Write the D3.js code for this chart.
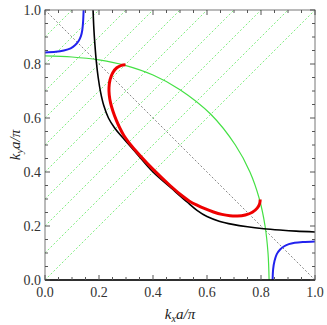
<!DOCTYPE html>
<html>
<head>
<meta charset="utf-8">
<script src="https://cdn.jsdelivr.net/npm/d3@7"></script>
<style>
  body { margin: 0; background: #fff; }
</style>
</head>
<body>
<svg id="chart"></svg>
<script>
// values (kx a/pi, ky a/pi)
const tickValues = [0, 0.2, 0.4, 0.6, 0.8, 1.0];
const tickLabels = ["0.0", "0.2", "0.4", "0.6", "0.8", "1.0"];
const diagOffsets = [0, 0.1, 0.2, 0.3, 0.4, 0.5, 0.6, 0.7, 0.8, 0.9];

const blackCurve = [
  [0.178, 1.0], [0.181, 0.93], [0.185, 0.87], [0.190, 0.81], [0.197, 0.75],
  [0.206, 0.695], [0.218, 0.645], [0.235, 0.60], [0.258, 0.563], [0.29, 0.525],
  [0.34, 0.468], [0.40, 0.40],
  [0.468, 0.34], [0.525, 0.29], [0.563, 0.258], [0.60, 0.235], [0.645, 0.218],
  [0.695, 0.206], [0.75, 0.197], [0.81, 0.190], [0.87, 0.185], [0.93, 0.181],
  [1.0, 0.178]
];

const redCurve = [
  [0.298, 0.797], [0.283, 0.795], [0.266, 0.786], [0.251, 0.768], [0.241, 0.742],
  [0.237, 0.712], [0.238, 0.685], [0.243, 0.655], [0.252, 0.624], [0.264, 0.592],
  [0.278, 0.561], [0.292, 0.535], [0.31, 0.510], [0.35, 0.463], [0.405, 0.405],
  [0.463, 0.35], [0.510, 0.31], [0.535, 0.292], [0.561, 0.278], [0.592, 0.264],
  [0.624, 0.252], [0.655, 0.243], [0.685, 0.238], [0.712, 0.237], [0.742, 0.241],
  [0.768, 0.251], [0.786, 0.266], [0.795, 0.283], [0.797, 0.298]
];

const greenCurve = [
  [0, 0.830], [0.1, 0.826], [0.2, 0.815], [0.3, 0.794], [0.4, 0.759],
  [0.5, 0.705], [0.614, 0.614], [0.705, 0.5], [0.759, 0.4], [0.794, 0.3],
  [0.815, 0.2], [0.826, 0.1], [0.830, 0]
];

const blueTopLeft = [
  [0, 0.843], [0.04, 0.845], [0.07, 0.850], [0.095, 0.858], [0.112, 0.870],
  [0.125, 0.886], [0.133, 0.903], [0.138, 0.925], [0.141, 0.955], [0.143, 1.0]
];
const blueBottomRight = [
  [0.843, 0], [0.845, 0.04], [0.850, 0.07], [0.858, 0.095], [0.870, 0.112],
  [0.886, 0.125], [0.903, 0.133], [0.925, 0.138], [0.955, 0.141], [1.0, 0.143]
];

const serif = "Liberation Serif";
const width = 327, height = 325;
const margin = { left: 45, top: 10, right: 12, bottom: 45 };
const w = width - margin.left - margin.right;
const h = height - margin.top - margin.bottom;

const svg = d3.select("#chart").attr("width", width).attr("height", height);
const g = svg.append("g").attr("transform", `translate(${margin.left},${margin.top})`);

const x = d3.scaleLinear().domain([0, 1]).range([0, w]);
const y = d3.scaleLinear().domain([0, 1]).range([h, 0]);

g.append("clipPath").attr("id", "clip")
  .append("rect").attr("width", w).attr("height", h);
const plot = g.append("g").attr("clip-path", "url(#clip)");

// green dotted lines ky = kx + c
plot.selectAll(".diag")
  .data(diagOffsets)
  .enter()
  .append("line")
  .attr("x1", (c) => x(0))
  .attr("y1", (c) => y(c))
  .attr("x2", (c) => x(1 - c))
  .attr("y2", (c) => y(1))
  .attr("stroke", "#80ee80")
  .attr("stroke-width", 1)
  .attr("stroke-dasharray", "2,2");

// gray dashed anti-diagonal
plot.append("line")
  .attr("x1", x(0)).attr("y1", y(1))
  .attr("x2", x(1)).attr("y2", y(0))
  .attr("stroke", "#888")
  .attr("stroke-width", 1)
  .attr("stroke-dasharray", "2,2");

const line = d3.line()
  .x((d) => x(d[0]))
  .y((d) => y(d[1]))
  .curve(d3.curveCatmullRom.alpha(0.5));

plot.append("path").datum(greenCurve)
  .attr("d", line).attr("fill", "none")
  .attr("stroke", "#44e044").attr("stroke-width", 1.2);

plot.append("path").datum(blackCurve)
  .attr("d", line).attr("fill", "none")
  .attr("stroke", "#000").attr("stroke-width", 1.6);

plot.append("path").datum(redCurve)
  .attr("d", line).attr("fill", "none")
  .attr("stroke", "#ee0000").attr("stroke-width", 3);

[blueTopLeft, blueBottomRight].forEach((pts) => {
  plot.append("path").datum(pts)
    .attr("d", line).attr("fill", "none")
    .attr("stroke", "#2222ee").attr("stroke-width", 2);
});

// frame
g.append("rect").attr("width", w).attr("height", h)
  .attr("fill", "none").attr("stroke", "#777").attr("stroke-width", 1);
g.append("line").attr("x1", 0).attr("x2", w).attr("y1", h).attr("y2", h)
  .attr("stroke", "#000").attr("stroke-width", 1.5);

// ticks (inward, all four sides)
const minor = d3.range(0, 1.0001, 0.05);
const tickLen = (v) => (Math.abs(v * 5 - Math.round(v * 5)) < 1e-6 ? 5 : 3);
minor.forEach((v) => {
  const L = tickLen(v);
  g.append("line").attr("x1", x(v)).attr("x2", x(v)).attr("y1", h).attr("y2", h - L).attr("stroke", "#555");
  g.append("line").attr("x1", x(v)).attr("x2", x(v)).attr("y1", 0).attr("y2", L).attr("stroke", "#555");
  g.append("line").attr("y1", y(v)).attr("y2", y(v)).attr("x1", 0).attr("x2", L).attr("stroke", "#555");
  g.append("line").attr("y1", y(v)).attr("y2", y(v)).attr("x1", w).attr("x2", w - L).attr("stroke", "#555");
});

g.selectAll(".xlab")
  .data(tickValues)
  .enter()
  .append("text")
  .attr("x", (d) => x(d))
  .attr("y", h + 17)
  .attr("text-anchor", "middle")
  .attr("font-family", serif)
  .attr("font-size", 14)
  .attr("fill", "#333")
  .text((d, i) => tickLabels[i]);

g.selectAll(".ylab")
  .data(tickValues)
  .enter()
  .append("text")
  .attr("x", -4)
  .attr("y", (d) => y(d) + 5)
  .attr("text-anchor", "end")
  .attr("font-family", serif)
  .attr("font-size", 14)
  .attr("fill", "#333")
  .text((d, i) => tickLabels[i]);

// axis titles
const xt = svg.append("text")
  .attr("x", margin.left + w / 2)
  .attr("y", 319)
  .attr("text-anchor", "middle")
  .attr("font-family", serif)
  .attr("font-size", 15)
  .attr("font-style", "italic")
  .attr("fill", "#222");
xt.append("tspan").text("k");
xt.append("tspan").attr("dy", 3).attr("font-size", 10).text("x");
xt.append("tspan").attr("dy", -3).text("a/π");

const yt = svg.append("text")
  .attr("transform", `translate(20,${margin.top + h / 2}) rotate(-90)`)
  .attr("text-anchor", "middle")
  .attr("font-family", serif)
  .attr("font-size", 15)
  .attr("font-style", "italic")
  .attr("fill", "#222");
yt.append("tspan").text("k");
yt.append("tspan").attr("dy", 3).attr("font-size", 10).text("y");
yt.append("tspan").attr("dy", -3).text("a/π");
</script>
</body>
</html>
